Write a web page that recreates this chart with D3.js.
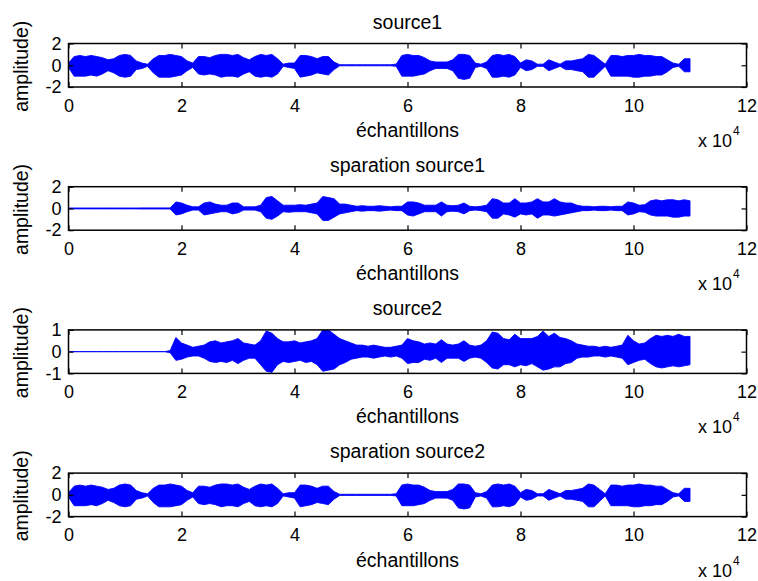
<!DOCTYPE html>
<html>
<head>
<meta charset="utf-8">
<script src="https://cdn.jsdelivr.net/npm/d3@7"></script>
<style>
  body { margin: 0; background: #fff; }
  text { font-family: "Liberation Sans", Arial, sans-serif; fill: #000; }
</style>
</head>
<body>
<div id="chart"></div>
<script>
// envelope of each signal, one value every 1000 samples (upper / lower magnitude)
var sampleStep = 1000;

var src1Hi = [0.2,0.8,0.9,0.8,0.9,0.8,0.7,0.5,0.6,0.9,1.0,0.9,0.4,0.2,0.1,0.6,0.9,0.9,1.0,0.9,
  0.8,0.4,0.2,0.8,0.8,0.7,0.9,1.0,1.0,0.9,1.0,0.7,0.5,0.8,1.0,0.9,1.0,0.6,0.1,0.2,
  0.2,0.9,0.9,0.8,0.6,0.8,0.8,0.3,0.05,0.05,0.05,0.05,0.05,0.05,0.05,0.05,0.05,0.05,0.1,0.9,
  1.0,0.9,0.9,0.7,0.4,0.3,0.3,0.3,0.5,1.0,1.0,0.9,0.2,0.1,0.3,0.9,1.0,0.9,1.0,0.8,
  0.2,0.5,0.4,0.1,0.1,0.5,0.3,0.1,0.4,0.4,0.5,0.6,1.0,0.9,0.5,0.1,0.9,0.9,0.8,0.9,
  0.9,1.0,0.9,0.9,0.8,0.8,0.5,0.2,0.1,0.6,0.6];
var src1Lo = [0.2,1.0,1.0,1.0,0.9,1.0,0.8,0.5,0.7,1.0,1.1,1.0,0.4,0.3,0.1,0.7,1.1,1.1,1.1,1.0,
  0.9,0.5,0.2,0.8,0.9,0.8,0.9,1.1,1.0,1.0,1.1,0.8,0.6,1.0,1.1,1.0,1.1,0.8,0.1,0.2,
  0.3,1.1,1.0,0.9,0.7,0.8,0.9,0.4,0.05,0.05,0.05,0.05,0.05,0.05,0.05,0.05,0.05,0.05,0.1,1.0,
  1.0,1.0,0.9,0.8,0.5,0.3,0.3,0.3,0.5,1.2,1.3,1.2,0.2,0.1,0.3,1.1,1.1,1.0,1.1,0.9,
  0.2,0.5,0.4,0.1,0.1,0.5,0.3,0.1,0.4,0.4,0.5,0.6,1.1,1.1,0.6,0.1,1.0,1.0,1.0,1.0,
  1.1,1.1,1.0,1.0,0.9,0.9,0.6,0.2,0.1,0.6,0.6];

var sep1Hi = [0.04,0.04,0.04,0.04,0.04,0.04,0.04,0.04,0.04,0.04,0.04,0.04,0.04,0.05,0.05,0.05,0.05,0.05,0.05,0.6,
  0.5,0.3,0.15,0.15,0.5,0.6,0.4,0.3,0.3,0.5,0.5,0.15,0.15,0.15,0.3,1.0,1.1,0.7,0.3,0.3,
  0.3,0.35,0.3,0.4,0.5,1.1,1.0,0.9,0.4,0.4,0.3,0.2,0.25,0.2,0.2,0.25,0.2,0.15,0.2,0.2,
  0.6,0.6,0.5,0.3,0.3,0.3,0.6,0.3,0.25,0.3,0.5,0.2,0.15,0.2,0.3,0.9,0.8,0.5,0.5,0.9,
  0.5,0.5,0.6,0.9,0.6,0.6,0.9,0.6,0.5,0.5,0.3,0.2,0.2,0.15,0.2,0.2,0.15,0.2,0.2,0.6,
  0.5,0.3,0.35,0.7,0.8,0.7,0.8,0.8,0.7,0.8,0.7];
var sep1Lo = [0.04,0.04,0.04,0.04,0.04,0.04,0.04,0.04,0.04,0.04,0.04,0.04,0.04,0.05,0.05,0.05,0.05,0.05,0.05,0.6,
  0.5,0.3,0.15,0.15,0.6,0.5,0.4,0.3,0.3,0.5,0.4,0.15,0.15,0.15,0.3,0.9,1.0,0.7,0.3,0.35,
  0.3,0.3,0.3,0.4,0.5,1.1,1.1,0.8,0.5,0.4,0.3,0.2,0.25,0.2,0.2,0.25,0.2,0.15,0.2,0.2,
  0.6,0.7,0.5,0.3,0.3,0.3,0.7,0.3,0.25,0.3,0.5,0.2,0.15,0.2,0.3,0.9,0.9,0.5,0.6,0.8,
  0.5,0.6,0.5,0.9,0.6,0.6,0.7,0.6,0.5,0.4,0.3,0.2,0.2,0.15,0.2,0.2,0.15,0.2,0.2,0.6,
  0.5,0.3,0.35,0.6,0.7,0.7,0.7,0.8,0.8,0.7,0.7];

var src2Hi = [0,0,0,0,0,0,0,0,0,0,0,0,0,0,0,0,0,0,0.05,0.65,
  0.4,0.3,0.2,0.25,0.3,0.45,0.5,0.4,0.45,0.5,0.6,0.4,0.35,0.3,0.5,0.95,0.85,0.6,0.45,0.45,
  0.5,0.4,0.45,0.5,0.6,1.0,1.0,0.8,0.6,0.5,0.4,0.3,0.3,0.25,0.3,0.25,0.2,0.2,0.25,0.3,
  0.6,0.5,0.45,0.35,0.4,0.35,0.55,0.35,0.3,0.35,0.5,0.3,0.25,0.3,0.5,0.9,0.85,0.6,0.55,0.8,
  0.6,0.6,0.6,0.7,0.95,0.7,0.85,0.65,0.6,0.5,0.35,0.3,0.25,0.25,0.2,0.25,0.2,0.25,0.3,0.75,
  0.5,0.35,0.4,0.6,0.75,0.7,0.75,0.7,0.8,0.7,0.7];
var src2Lo = [0,0,0,0,0,0,0,0,0,0,0,0,0,0,0,0,0,0,0.05,0.4,
  0.35,0.25,0.2,0.2,0.3,0.45,0.5,0.45,0.5,0.4,0.55,0.4,0.3,0.3,0.6,0.9,0.95,0.6,0.45,0.5,
  0.45,0.4,0.5,0.45,0.6,0.9,0.85,0.8,0.6,0.5,0.35,0.3,0.25,0.25,0.3,0.25,0.2,0.25,0.2,0.3,
  0.55,0.5,0.5,0.35,0.4,0.3,0.5,0.3,0.3,0.3,0.45,0.3,0.25,0.3,0.5,0.75,0.8,0.6,0.6,0.7,
  0.6,0.65,0.55,0.7,0.85,0.8,0.7,0.7,0.55,0.5,0.3,0.25,0.25,0.2,0.2,0.25,0.2,0.25,0.3,0.6,
  0.5,0.4,0.35,0.55,0.7,0.75,0.7,0.65,0.7,0.65,0.6];

var sep2Hi = [0.2,0.8,0.9,0.8,0.9,0.8,0.7,0.5,0.6,0.9,1.0,0.9,0.4,0.2,0.1,0.6,0.9,0.9,1.0,0.9,
  0.8,0.4,0.2,0.8,0.8,0.7,0.9,1.0,1.0,0.9,1.0,0.7,0.5,0.8,1.0,0.9,1.0,0.6,0.1,0.2,
  0.2,0.9,0.9,0.8,0.6,0.8,0.8,0.3,0.05,0.05,0.05,0.05,0.05,0.05,0.05,0.05,0.05,0.05,0.1,0.9,
  1.0,0.9,0.9,0.7,0.4,0.3,0.3,0.3,0.5,1.0,1.0,0.9,0.2,0.1,0.3,0.9,1.0,0.9,1.0,0.8,
  0.2,0.5,0.4,0.1,0.1,0.5,0.3,0.1,0.4,0.4,0.5,0.6,1.0,0.9,0.5,0.1,0.9,0.9,0.8,0.9,
  0.9,1.0,0.9,0.9,0.8,0.8,0.5,0.2,0.1,0.6,0.6];
var sep2Lo = [0.2,1.0,1.0,1.0,0.9,1.0,0.8,0.5,0.7,1.0,1.1,1.0,0.4,0.3,0.1,0.7,1.1,1.1,1.1,1.0,
  0.9,0.5,0.2,0.8,0.9,0.8,0.9,1.1,1.0,1.0,1.1,0.8,0.6,1.0,1.1,1.0,1.1,0.8,0.1,0.2,
  0.3,1.1,1.0,0.9,0.7,0.8,0.9,0.4,0.05,0.05,0.05,0.05,0.05,0.05,0.05,0.05,0.05,0.05,0.1,1.0,
  1.0,1.0,0.9,0.8,0.5,0.3,0.3,0.3,0.5,1.2,1.3,1.2,0.2,0.1,0.3,1.1,1.1,1.0,1.1,0.9,
  0.2,0.5,0.4,0.1,0.1,0.5,0.3,0.1,0.4,0.4,0.5,0.6,1.1,1.1,0.6,0.1,1.0,1.0,1.0,1.0,
  1.1,1.1,1.0,1.0,0.9,0.9,0.6,0.2,0.1,0.6,0.6];

var titles = ['source1', 'sparation source1', 'source2', 'sparation source2'];
var xTicks = [0, 20000, 40000, 60000, 80000, 100000, 120000];
var yTicksWide = [-2, 0, 2];
var yTicksNarrow = [-1, 0, 1];

var panels = [
  { title: titles[0], hi: src1Hi, lo: src1Lo, yMax: 2, ticks: yTicksWide },
  { title: titles[1], hi: sep1Hi, lo: sep1Lo, yMax: 2, ticks: yTicksWide },
  { title: titles[2], hi: src2Hi, lo: src2Lo, yMax: 1, ticks: yTicksNarrow },
  { title: titles[3], hi: sep2Hi, lo: sep2Lo, yMax: 2, ticks: yTicksWide }
];

var width = 758, height = 581;
var left = 68.5, plotW = 678, plotH = 43.5, firstTop = 43.5, gap = 143.2;

var svg = d3.select('#chart').append('svg')
  .attr('width', width)
  .attr('height', height);

svg.append('rect').attr('width', width).attr('height', height).attr('fill', '#fff');

var x = d3.scaleLinear().domain([0, 120000]).range([0, plotW]);

panels.forEach(function (p, i) {
  var top = firstTop + i * gap;
  var g = svg.append('g').attr('transform', 'translate(' + left + ',' + top + ')');
  var y = d3.scaleLinear().domain([-p.yMax, p.yMax]).range([plotH, 0]);

  g.append('clipPath').attr('id', 'clip' + i)
    .append('rect').attr('width', plotW).attr('height', plotH);

  // waveform envelope
  var area = d3.area()
    .x(function (d, k) { return x(k * sampleStep); })
    .y0(function (d, k) { return y(-p.lo[k]); })
    .y1(function (d) { return y(d); });

  g.append('path')
    .datum(p.hi)
    .attr('clip-path', 'url(#clip' + i + ')')
    .attr('d', area)
    .attr('fill', '#0000ff')
    .attr('stroke', '#0000ff')
    .attr('stroke-width', 0.9);

  // axes, ticks pointing inward on all four sides
  var fmt = function (d) { return d / 10000; };
  g.append('g').attr('class', 'axis')
    .attr('transform', 'translate(0,' + plotH + ')')
    .call(d3.axisBottom(x).tickValues(xTicks).tickSize(-5).tickPadding(12).tickFormat(fmt));
  g.append('g').attr('class', 'axis')
    .call(d3.axisTop(x).tickValues(xTicks).tickSize(-5).tickFormat(''));
  g.append('g').attr('class', 'axis')
    .call(d3.axisLeft(y).tickValues(p.ticks).tickSize(-5).tickPadding(7)
      .tickFormat(function (d) { return String(d); }));
  g.append('g').attr('class', 'axis')
    .attr('transform', 'translate(' + plotW + ',0)')
    .call(d3.axisRight(y).tickValues(p.ticks).tickSize(-5).tickFormat(''));

  g.selectAll('.axis .domain').remove();
  g.selectAll('.axis line').attr('stroke', '#000').attr('stroke-width', 1.2);
  g.selectAll('.axis text')
    .style('font-family', '"Liberation Sans", Arial, sans-serif')
    .style('font-size', '18px')
    .attr('fill', '#000');

  g.append('rect')
    .attr('width', plotW).attr('height', plotH)
    .attr('fill', 'none').attr('stroke', '#000').attr('stroke-width', 1.5);

  g.append('text')
    .attr('x', plotW / 2).attr('y', -15)
    .attr('text-anchor', 'middle')
    .style('font-size', '19.5px')
    .text(p.title);

  g.append('text')
    .attr('x', plotW / 2).attr('y', plotH + 50)
    .attr('text-anchor', 'middle')
    .style('font-size', '19.5px')
    .text('échantillons');

  g.append('text')
    .attr('transform', 'translate(' + (28 - left) + ',' + (plotH / 2 + 1) + ') rotate(-90)')
    .attr('text-anchor', 'middle')
    .style('font-size', '19.5px')
    .text('amplitude)');

  var exp = g.append('text')
    .attr('x', 698 - left).attr('y', plotH + 60)
    .style('font-size', '18px');
  exp.append('tspan').text('x 10');
  exp.append('tspan').attr('dy', -12).attr('dx', 1).style('font-size', '12px').text('4');
});
</script>
</body>
</html>
